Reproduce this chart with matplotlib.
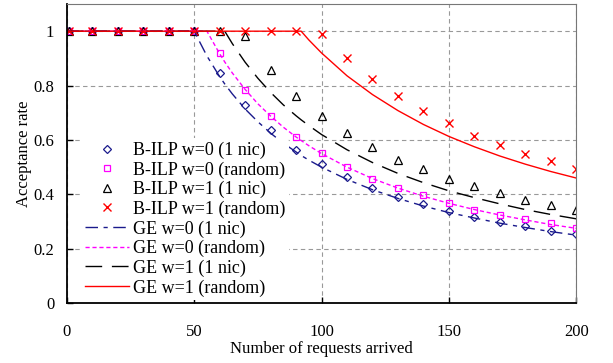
import matplotlib
matplotlib.use("Agg")
import matplotlib.pyplot as plt

plt.rcParams['font.family'] = ['Liberation Serif', 'DejaVu Serif']
plt.rcParams['mathtext.fontset'] = 'stix'

# B-ILP results (markers), one point every 10 requests
ilp_x = [1, 10, 20, 30, 40, 50, 60, 70, 80, 90, 100, 110, 120, 130, 140, 150, 160, 170, 180, 190, 200]
ilp_w0_nic = [1, 1, 1, 1, 1, 1, 0.848, 0.728, 0.636, 0.564, 0.510, 0.462, 0.425, 0.390, 0.363,
              0.338, 0.317, 0.298, 0.282, 0.267, 0.254]
ilp_w0_rand = [1, 1, 1, 1, 1, 1, 0.918, 0.785, 0.688, 0.610, 0.551, 0.500, 0.458, 0.424, 0.397,
               0.369, 0.344, 0.324, 0.309, 0.293, 0.277]
ilp_w1_nic = [1, 1, 1, 1, 1, 1, 1.0, 0.983, 0.859, 0.762, 0.689, 0.624, 0.574, 0.528, 0.493,
              0.456, 0.429, 0.406, 0.381, 0.362, 0.344]
ilp_w1_rand = [1, 1, 1, 1, 1, 1, 1.0, 1.0, 1.0, 1.0, 0.989, 0.900, 0.824, 0.760, 0.706,
               0.662, 0.616, 0.581, 0.549, 0.521, 0.493]

# GE results (lines)
ge_x = [0, 50, 55, 60, 62, 65, 70, 75, 80, 85, 90, 92, 95, 100, 110, 120, 130, 140, 150, 160, 170, 180, 190, 200]
ge_w0_nic = [1, 1, 0.909, 0.833, 0.806, 0.769, 0.714, 0.667, 0.625, 0.588, 0.556, 0.543, 0.526, 0.500,
             0.455, 0.417, 0.385, 0.357, 0.333, 0.313, 0.294, 0.278, 0.263, 0.250]
ge_w0_rand = [1, 1, 1, 0.917, 0.887, 0.846, 0.786, 0.733, 0.688, 0.647, 0.611, 0.598, 0.579, 0.550,
              0.500, 0.458, 0.423, 0.393, 0.367, 0.344, 0.324, 0.306, 0.289, 0.275]
ge_w1_nic = [1, 1, 1, 1, 1, 0.954, 0.886, 0.827, 0.775, 0.729, 0.689, 0.674, 0.653, 0.620,
             0.564, 0.517, 0.477, 0.443, 0.413, 0.388, 0.365, 0.344, 0.326, 0.310]
ge_w1_rand = [1, 1, 1, 1, 1, 1, 1, 1, 1, 1, 1, 1, 0.968, 0.920,
              0.836, 0.767, 0.708, 0.657, 0.613, 0.575, 0.541, 0.511, 0.484, 0.460]

x_ticks = [0, 50, 100, 150, 200]
y_ticks = [0, 0.2, 0.4, 0.6, 0.8, 1]
y_ticklabels = ['0', '0.2', '0.4', '0.6', '0.8', '1']

NAVY = '#1a1a8c'
MAGENTA = '#ff00ff'

fig = plt.figure(figsize=(6.13, 3.63), dpi=100)
ax = fig.add_axes([0.109, 0.165, 0.831, 0.824])

mk = dict(linestyle='none', markerfacecolor='none', markeredgewidth=0.9)
ax.plot(ilp_x, ilp_w0_nic, marker='D', markersize=4.2, color=NAVY, label='B-ILP w=0 (1 nic)', **mk)
ax.plot(ilp_x, ilp_w0_rand, marker='s', markersize=5, color=MAGENTA, label='B-ILP w=0 (random)', **mk)
ax.plot(ilp_x, ilp_w1_nic, marker='^', markersize=5.5, color='black', label='B-ILP w=1 (1 nic)', **mk)
ax.plot(ilp_x, ilp_w1_rand, marker='x', markersize=6, color='red', linestyle='none',
        markeredgewidth=1.0, label='B-ILP w=1 (random)')

ax.plot(ge_x, ge_w0_nic, color=NAVY, lw=1.0, linestyle=(0, (9, 4, 3, 4)), label='GE w=0 (1 nic)')
ax.plot(ge_x, ge_w0_rand, color=MAGENTA, lw=1.0, linestyle=(0, (3, 2)), label='GE w=0 (random)')
ax.plot(ge_x, ge_w1_nic, color='black', lw=1.0, linestyle=(0, (12, 7)), label='GE w=1 (1 nic)')
ax.plot(ge_x, ge_w1_rand, color='red', lw=1.0, linestyle='-', label='GE w=1 (random)')

ax.set_xlim(0, 200)
ax.set_ylim(0, 1.1)
ax.set_xticks(x_ticks)
ax.set_yticks(y_ticks)
ax.set_yticklabels(y_ticklabels)
ax.tick_params(axis='both', direction='in', length=4, width=1, labelsize=12)
ax.tick_params(axis='x', pad=15)
ax.tick_params(axis='y', pad=9)
ax.grid(True, color='#999999', linestyle=(0, (4, 3)), linewidth=0.8)
ax.set_axisbelow(True)

for side in ['left', 'bottom']:
    ax.spines[side].set_linewidth(1.3)
    ax.spines[side].set_color('black')
for side in ['top', 'right']:
    ax.spines[side].set_linewidth(0.8)
    ax.spines[side].set_color('#777777')

ax.set_xlabel('Number of requests arrived', fontsize=12, labelpad=1)
ax.set_ylabel('Acceptance rate', fontsize=12, labelpad=1)

leg = ax.legend(loc='lower left', bbox_to_anchor=(0.028, 0.01), fontsize=13, frameon=True,
                facecolor='white', edgecolor='none', framealpha=1, handlelength=2.45,
                handletextpad=0.2, labelspacing=0.13, borderpad=0.2, borderaxespad=0)

fig.savefig('out.png', dpi=100)
